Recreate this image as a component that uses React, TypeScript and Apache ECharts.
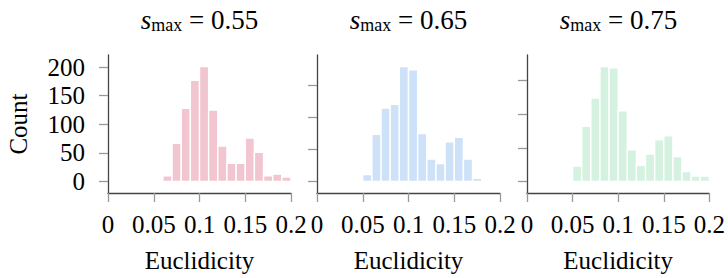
import React, { useEffect, useRef } from "react";
import * as echarts from "echarts";

const sMaxLabels = ["0.55", "0.65", "0.75"];
const xTicks = [0, 0.05, 0.1, 0.15, 0.2];
const yTicks055 = [0, 50, 100, 150, 200];
const yTicksOther = [0, 50, 100, 150];

const binLeft055 = [0.06, 0.07, 0.08, 0.09, 0.1, 0.11, 0.12, 0.13, 0.14, 0.15, 0.16, 0.17, 0.18, 0.19];
const counts055 = [10, 67, 128, 177, 201, 125, 62, 32, 32, 76, 51, 10, 13, 8];

const binLeft065 = [0.05, 0.06, 0.07, 0.08, 0.09, 0.1, 0.11, 0.12, 0.13, 0.14, 0.15, 0.16, 0.17];
const counts065 = [11, 74, 115, 121, 180, 175, 75, 35, 28, 62, 69, 35, 5];

const binLeft075 = [0.05, 0.06, 0.07, 0.08, 0.09, 0.1, 0.11, 0.12, 0.13, 0.14, 0.15, 0.16, 0.17, 0.18, 0.19];
const counts075 = [23, 82, 124, 171, 169, 105, 47, 24, 41, 62, 68, 37, 15, 8, 8];

const BIN_WIDTH = 0.01;

const FONT = "Liberation Serif";
const colors = ["#f2c6d0", "#cde2f8", "#d4f2df"];

export default function App() {
  const ref = useRef<HTMLDivElement>(null);
  useEffect(() => {
    if (!ref.current) return;
    const chart = echarts.init(ref.current, null, { renderer: "svg" });
    const panels = [
      { left: 108, bins: binLeft055, counts: counts055, yMin: -20, yMax: 221, ticks: yTicks055, labels: true },
      { left: 317, bins: binLeft065, counts: counts065, yMin: -18, yMax: 198, ticks: yTicksOther, labels: false },
      { left: 527, bins: binLeft075, counts: counts075, yMin: -17, yMax: 188, ticks: yTicksOther, labels: false },
    ];
    const width = 183;
    const grid = panels.map((p) => ({ left: p.left, top: 55, width, height: 140.6 }));
    const xAxis = panels.map((p, i) => ({
      type: "value",
      gridIndex: i,
      min: 0,
      max: 0.2,
      interval: 0.05,
      name: "Euclidicity",
      nameLocation: "middle",
      nameGap: 55,
      nameTextStyle: { fontFamily: FONT, fontSize: 25, color: "#000" },
      axisLine: { onZero: false, lineStyle: { color: "#444", width: 1.3 } },
      axisTick: { show: true, length: 9, lineStyle: { color: "#999", width: 1.3 } },
      axisLabel: {
        margin: 19,
        fontFamily: FONT,
        fontSize: 25,
        color: "#000",
        customValues: xTicks,
        formatter: (v: number) => String(v),
      },
      splitLine: { show: false },
    }));
    const yAxis = panels.map((p, i) => ({
      type: "value",
      gridIndex: i,
      min: p.yMin,
      max: p.yMax,
      name: i === 0 ? "Count" : "",
      nameLocation: "middle",
      nameGap: 77,
      nameTextStyle: { fontFamily: FONT, fontSize: 25, color: "#000" },
      axisLine: { show: true, onZero: false, lineStyle: { color: "#444", width: 1.3 } },
      axisTick: { show: true, length: 9, customValues: p.ticks, lineStyle: { color: "#999", width: 1.3 } },
      axisLabel: {
        show: p.labels,
        margin: 23,
        fontFamily: FONT,
        fontSize: 25,
        color: "#000",
        customValues: p.ticks,
      },
      splitLine: { show: false },
    }));
    const series = panels.map((p, i) => ({
      type: "custom",
      xAxisIndex: i,
      yAxisIndex: i,
      data: p.bins.map((b, k) => [b, b + BIN_WIDTH, p.counts[k]]),
      encode: { x: [0, 1], y: 2 },
      renderItem: (params: any, api: any) => {
        const x0 = api.value(0);
        const x1 = api.value(1);
        const y = api.value(2);
        const a = api.coord([x0, y]);
        const b = api.coord([x1, 0]);
        return {
          type: "rect",
          shape: { x: a[0], y: a[1], width: b[0] - a[0], height: b[1] - a[1] },
          style: { fill: colors[i], stroke: "#fff", lineWidth: 1.4 },
        };
      },
    }));
    const graphic = panels.map((p, i) => ({
      type: "text",
      x: p.left + width / 2,
      y: 6,
      style: {
        text: `{s|s}{sub|max}{r| = ${sMaxLabels[i]}}`,
        fontFamily: FONT,
        fontSize: 26,
        align: "center",
        verticalAlign: "top",
        rich: {
          s: { fontFamily: FONT, fontStyle: "italic", fontSize: 27, lineHeight: 26, verticalAlign: "top", fill: "#000" },
          sub: { fontFamily: FONT, fontSize: 18, lineHeight: 18, verticalAlign: "top", padding: [10, 0, 0, 0], fill: "#000" },
          r: { fontFamily: FONT, fontSize: 27, lineHeight: 26, verticalAlign: "top", fill: "#000" },
        },
      },
    }));
    chart.setOption({
      animation: false,
      backgroundColor: "#fff",
      grid,
      xAxis,
      yAxis,
      series,
      graphic,
    } as any);
    return () => chart.dispose();
  }, []);
  return (
    <div
      ref={ref}
      style={{ position: "absolute", left: 0, top: 0, width: 728, height: 278 }}
    />
  );
}
